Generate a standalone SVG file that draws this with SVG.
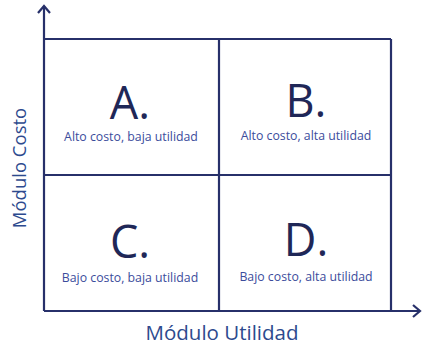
<svg xmlns="http://www.w3.org/2000/svg" width="422" height="347" viewBox="0 0 422 347">
<style>
.ln{stroke:#27306a;stroke-width:2.2;fill:none}
.big{font-family:"Open Sans","Noto Sans",sans-serif;font-size:45px;fill:#1f2757;text-anchor:middle}
.sub{font-family:"Open Sans","Noto Sans",sans-serif;font-size:12.3px;fill:#3b4c9c;text-anchor:middle}
.ax{font-family:"Open Sans","Noto Sans",sans-serif;fill:#2d4a8e;text-anchor:middle}
</style>
<rect width="422" height="347" fill="#fff"/>
<g id="connectors">
<line class="ln" x1="44" y1="311" x2="44" y2="6"/>
<polyline class="ln" points="38,13 44,6 50,13"/>
<line class="ln" x1="44" y1="311" x2="420" y2="311"/>
<polyline class="ln" points="413,305 420,311 413,317"/>
<line class="ln" x1="44" y1="39" x2="391" y2="39"/>
<line class="ln" x1="44" y1="175" x2="391" y2="175"/>
<line class="ln" x1="219" y1="39" x2="219" y2="311"/>
<line class="ln" x1="391" y1="39" x2="391" y2="311"/>
</g>
<g id="A"><text class="big" x="130" y="119">A.</text><text class="sub" x="131" y="141">Alto costo, baja utilidad</text></g>
<g id="B"><text class="big" x="306" y="117">B.</text><text class="sub" x="306" y="140">Alto costo, alta utilidad</text></g>
<g id="C"><text class="big" x="130" y="258">C.</text><text class="sub" x="130" y="282">Bajo costo, baja utilidad</text></g>
<g id="D"><text class="big" x="306" y="256">D.</text><text class="sub" x="306" y="281">Bajo costo, alta utilidad</text></g>
<g id="axis-y"><text class="ax" font-size="18.5" transform="translate(26,168) rotate(-90)">Módulo Costo</text></g>
<g id="axis-x"><text class="ax" font-size="20.5" x="222" y="340">Módulo Utilidad</text></g>
</svg>
